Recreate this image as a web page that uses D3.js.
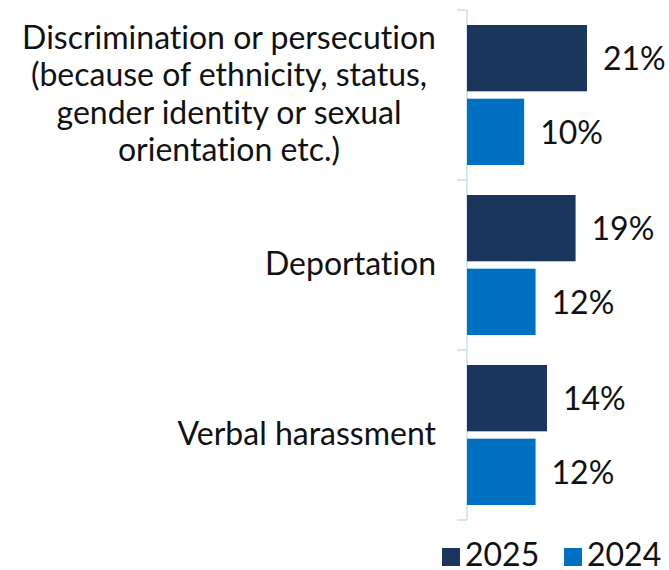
<!DOCTYPE html>
<html>
<head>
<meta charset="utf-8">
<script src="https://cdn.jsdelivr.net/npm/d3@7"></script>
<style>
  html, body { margin: 0; padding: 0; background: #fff; }
  svg { display: block; font-family: Lato, "Open Sans", sans-serif; font-variant-ligatures: none; }
</style>
</head>
<body>
<svg id="chart" width="669" height="570"></svg>
<script>
// Reasons cited, share of respondents by survey year
const categories = [
  ["Discrimination or persecution", "(because of ethnicity, status,", "gender identity or sexual", "orientation etc.)"],
  ["Deportation"],
  ["Verbal harassment"]
];
const seriesNames = ["2025", "2024"];
const values2025 = [21, 19, 14];
const values2024 = [10, 12, 12];
const colors = ["#1a365d", "#0070c0"];

const svg = d3.select("#chart");
const axisX = 467;
const plotTop = 10, plotBottom = 520;
const fontSize = 32;

const rows = categories.map((c, i) => ({ idx: i, lines: c, vals: [values2025[i], values2024[i]] }));

const y = d3.scaleBand().domain(d3.range(categories.length)).range([plotTop, plotBottom]).padding(0);
const ySub = d3.scaleBand().domain(seriesNames).range([15, 170 - 15]).paddingInner(0.1);
const x = d3.scaleLinear().domain([0, 21]).range([axisX, 587]);

// category axis line and boundary ticks
const axisColor = "#c9def1";
svg.append("line")
  .attr("x1", axisX).attr("x2", axisX)
  .attr("y1", plotTop).attr("y2", plotBottom)
  .attr("stroke", axisColor).attr("stroke-width", 1.5);
const boundaries = d3.range(categories.length + 1).map(i => plotTop + i * y.bandwidth());
svg.selectAll("line.tick").data(boundaries).join("line")
  .attr("class", "tick")
  .attr("x1", axisX - 10).attr("x2", axisX)
  .attr("y1", d => d).attr("y2", d => d)
  .attr("stroke", axisColor).attr("stroke-width", 1.5);

const groups = svg.selectAll("g.cat").data(rows).join("g")
  .attr("class", "cat")
  .attr("transform", d => `translate(0,${y(d.idx)})`);

// bars
groups.selectAll("rect").data(d => d.vals.map((v, j) => ({ v, s: seriesNames[j], j })))
  .join("rect")
  .attr("x", x(0))
  .attr("y", d => ySub(d.s))
  .attr("width", d => x(d.v) - x(0))
  .attr("height", ySub.bandwidth())
  .attr("fill", d => colors[d.j]);

// value labels
groups.selectAll("text.val").data(d => d.vals.map((v, j) => ({ v, s: seriesNames[j] })))
  .join("text")
  .attr("class", "val")
  .attr("x", d => x(d.v) + 16)
  .attr("y", d => ySub(d.s) + ySub.bandwidth() / 2)
  .attr("dy", "0.38em")
  .attr("font-size", fontSize)
  .attr("fill", "#111")
  .text(d => d.v + "%");

// category labels left of the axis
const lineH = 37.6;
groups.append("text")
  .attr("class", "cat-label")
  .attr("font-size", fontSize)
  .attr("fill", "#111")
  .each(function (d) {
    const t = d3.select(this);
    const n = d.lines.length;
    t.attr("text-anchor", n > 1 ? "middle" : "end");
    const cx = n > 1 ? 229 : 436;
    const shift = 10;
    d.lines.forEach((ln, k) => {
      t.append("tspan")
        .attr("x", cx)
        .attr("y", y.bandwidth() / 2 + (k - (n - 1) / 2) * lineH + shift)
        .text(ln);
    });
  });

// legend
const legend = svg.append("g");
const legendX = [442, 564];
seriesNames.forEach((s, j) => {
  legend.append("rect")
    .attr("x", legendX[j]).attr("y", 548)
    .attr("width", 18).attr("height", 18)
    .attr("fill", colors[j]);
  legend.append("text")
    .attr("x", legendX[j] + 23).attr("y", 566)
    .attr("font-size", fontSize)
    .attr("fill", "#111")
    .text(s);
});
</script>
</body>
</html>
